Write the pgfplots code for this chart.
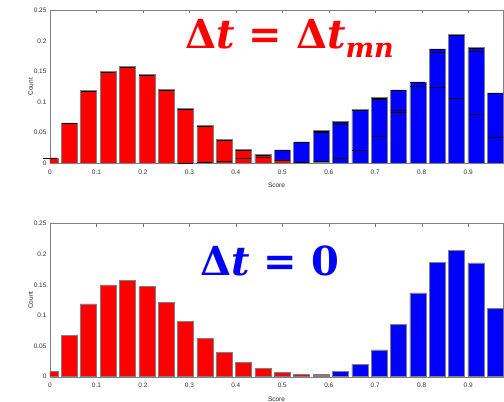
\documentclass[border=0pt]{standalone}
\usepackage{pgfplots}
\pgfplotsset{compat=1.18}
\usepackage{pgfplotstable}
\usepackage{fontspec}
\setmainfont{Liberation Sans}
\newfontfamily\titlefam{DejaVu Serif}

\newcommand\bigtitle{\titlefam\fontsize{40}{44}\selectfont\bfseries}
\newcommand\sub[1]{\raisebox{-0.22em}{\fontsize{27}{30}\selectfont\itshape #1}}

% bin centres are k/24
\pgfplotstableread{
x v
0.0000 0.009
0.0417 0.066
0.0833 0.119
0.1250 0.150
0.1667 0.158
0.2083 0.145
0.2500 0.121
0.2917 0.090
0.3333 0.062
0.3750 0.039
0.4167 0.023
0.4583 0.014
0.5000 0.0054
0.5417 0.0022
0.5833 0.0011
}\topred
\pgfplotstableread{
x v
0.2917 0.0016
0.3333 0.0027
0.3750 0.0043
0.4167 0.0098
0.4583 0.0150
0.5000 0.022
0.5417 0.035
0.5833 0.054
0.6250 0.068
0.6667 0.088
0.7083 0.108
0.7500 0.120
0.7917 0.133
0.8333 0.187
0.8750 0.211
0.9167 0.189
0.9583 0.115
}\topblue
\pgfplotstableread{
x v
0.4583 0.0098
0.5833 0.051
0.5833 0.0027
0.6250 0.064
0.6250 0.0082
0.6667 0.021
0.7083 0.104
0.7083 0.044
0.7500 0.0866
0.7500 0.083
0.7917 0.125
0.8333 0.181
0.8333 0.124
0.8750 0.107
0.9167 0.183
0.9167 0.080
0.9583 0.043
}\topinner
\pgfplotstableread{
x v
0.0000 0.009
0.0417 0.067
0.0833 0.119
0.1250 0.150
0.1667 0.158
0.2083 0.147
0.2500 0.121
0.2917 0.091
0.3333 0.063
0.3750 0.040
0.4167 0.024
0.4583 0.0136
0.5000 0.0071
0.5417 0.0038
0.5833 0.0030
}\botred
\pgfplotstableread{
x v
0.5833 0.0038
0.6250 0.0092
0.6667 0.020
0.7083 0.044
0.7500 0.086
0.7917 0.137
0.8333 0.187
0.8750 0.206
0.9167 0.186
0.9583 0.112
}\botblue

\pgfplotsset{
  histo/.style={
    scale only axis, width=453pt, height=153pt,
    xmin=0, xmax=0.975, ymin=0, ymax=0.25,
    xtick={0,0.1,...,0.9}, ytick={0,0.05,...,0.25},
    scaled y ticks=false,
    /pgf/number format/fixed,
    /pgf/number format/assume math mode=true,
    ticklabel style={font=\fontsize{6.5}{7}\selectfont, text=black!80},
    label style={font=\fontsize{6.5}{7}\selectfont, text=black!85},
    xlabel={Score}, ylabel={Count},
    xlabel style={yshift=-2pt}, ylabel style={yshift=-6pt},
    xticklabel style={yshift=-3pt},
    tick align=inside, major tick length=3pt,
    tick style={black!55},
    axis line style={black!50},
    ytick style={draw=none},
    ticklabel pos=left,
    title style={anchor=base west, inner sep=0pt, font=\bigtitle},
  },
  hbars/.style={ybar, bar shift=0pt, bar width=0.0344, draw=black!50, line width=0.5pt, fill=#1},
  htops/.style={only marks, mark=-, mark size=7.4pt, mark options={line width=0.6pt, draw=black}},
}

\begin{document}
\begin{tikzpicture}
\useasboundingbox (0pt,0pt) rectangle (504pt,402pt);

% upper panel
\begin{axis}[histo, at={(50pt,238.7pt)}, anchor=south west,
  title={Δ\textit{t} = Δ\textit{t}\sub{mn}},
  title style={at={(rel axis cs:0.298,0.708)}, text=red}]
  \addplot[hbars=blue] table[x=x,y=v] {\topblue};
  \addplot[hbars=red] table[x=x,y=v] {\topred};
  \addplot[htops] table[x=x,y expr=\thisrow{v}-0.0012] {\topblue};
  \addplot[htops] table[x=x,y expr=\thisrow{v}-0.0012] {\topred};
  \addplot[htops] table[x=x,y=v] {\topinner};
\end{axis}

% lower panel
\begin{axis}[histo, at={(50pt,25.3pt)}, anchor=south west,
  title={Δ\textit{t} = 0},
  title style={at={(rel axis cs:0.331,0.621)}, text=blue}]
  \addplot[hbars=blue] table[x=x,y=v] {\botblue};
  \addplot[hbars=red] table[x=x,y=v] {\botred};
\end{axis}
\end{tikzpicture}
\end{document}
